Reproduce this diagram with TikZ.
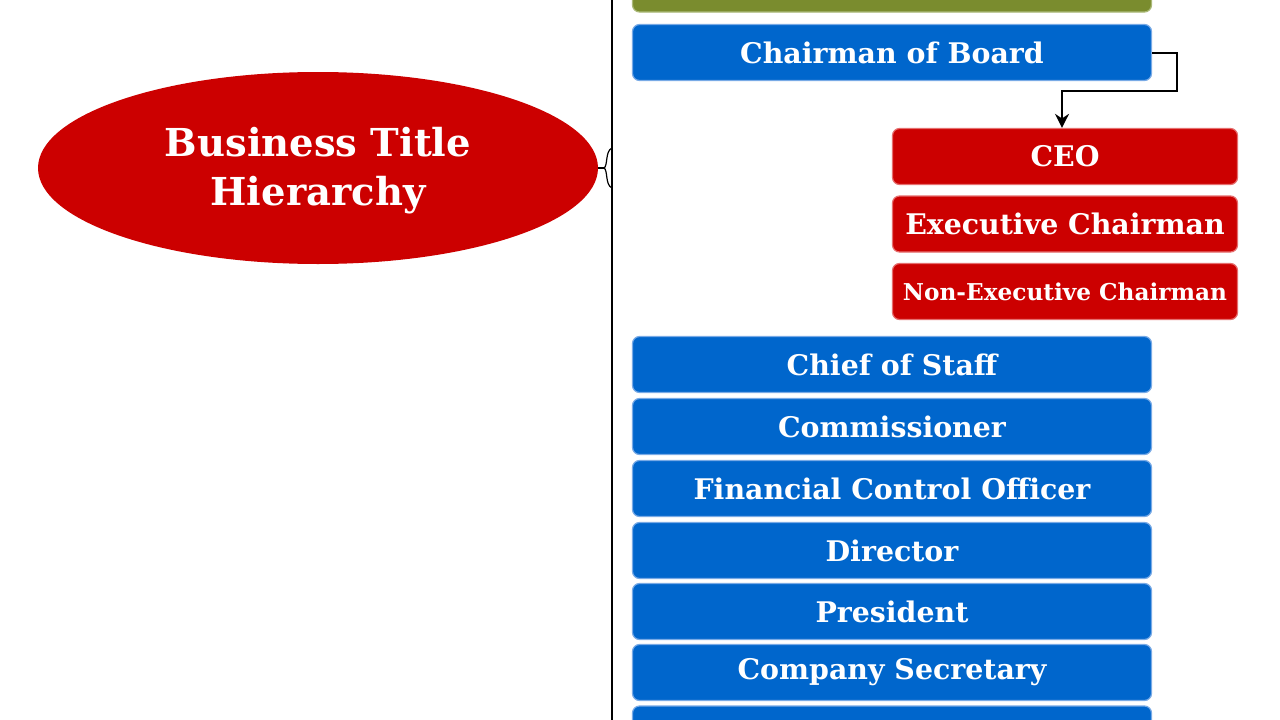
\documentclass[tikz,border=0pt]{standalone}
\usepackage{fontspec}
\setmainfont{DejaVu Serif}
\usetikzlibrary{arrows.meta,shapes.geometric}
\definecolor{bblue}{RGB}{0,102,204}
\definecolor{bblueb}{RGB}{120,170,230}
\definecolor{rred}{RGB}{204,0,0}
\definecolor{rredb}{RGB}{230,110,110}
\definecolor{ggreen}{RGB}{122,140,46}
\definecolor{ggreenb}{RGB}{170,185,120}
\tikzset{
  tbox/.style={rectangle, rounded corners=7pt, line width=1.2pt, text=white,
    font=\bfseries\fontsize{28.4}{32}\selectfont, inner sep=0pt, anchor=center},
  bluebox/.style={tbox, fill=bblue, draw=bblueb, minimum width=519pt, minimum height=56pt},
  redbox/.style={tbox, fill=rred, draw=rredb, minimum width=345pt, minimum height=56pt},
  greenbox/.style={tbox, fill=ggreen, draw=ggreenb, minimum width=519pt, minimum height=56pt},
  conn/.style={draw=black, line width=2pt},
}
\begin{document}
\begin{tikzpicture}[x=1pt,y=-1pt]
\useasboundingbox (0,0) rectangle (1280,720);
\fill[white] (0,0) rectangle (1280,720);
% ellipse
\node[ellipse, fill=rred, minimum width=560pt, minimum height=192pt, inner sep=0pt,
  text=white, font=\bfseries\fontsize{38.5}{49}\selectfont, align=center] (main) at (318,168)
  {};
\node[text=white, font=\bfseries\fontsize{38.5}{49}\selectfont, align=center] (maintxt) at (318,171)
  {Business Title\\Hierarchy};
% vertical line
\coordinate (vtop) at (612,0);
\coordinate (vbot) at (612,720);
\draw[line width=1.6pt] (vtop) -- (vbot);
% brace
\coordinate (btip) at (604,168);
\coordinate (bup) at (612,148);
\coordinate (bdn) at (612,188);
\draw[line width=1.4pt] (main.east) -- (btip);
\draw[line width=1.2pt] (bup) .. controls (605,151) and (608,166) .. (btip)
  .. controls (608,170) and (605,185) .. (bdn);
% boxes
\node[greenbox] (green) at (892,-16) {};
\node[bluebox] (chair) at (892,52.5) {Chairman of Board};
\node[redbox] (ceo) at (1065,156.5) {CEO};
\node[redbox] (exec) at (1065,224) {Executive Chairman};
\node[redbox, font=\bfseries\fontsize{23.2}{27}\selectfont] (nonexec) at (1065,291.5) {Non-Executive Chairman};
\node[bluebox] (cos) at (892,364.5) {Chief of Staff};
\node[bluebox] (comm) at (892,426.5) {Commissioner};
\node[bluebox] (fco) at (892,488.5) {Financial Control Officer};
\node[bluebox] (dir) at (892,550.5) {Director};
\node[bluebox] (pres) at (892,611.5) {President};
\node[bluebox] (sec) at (892,672.5) {Company Secretary};
\node[bluebox] (next) at (892,734) {};
% connector
\coordinate (c1) at (1177,52.5);
\coordinate (c2) at (1177,91);
\coordinate (c3) at (1062,91);
\draw[conn, -{Stealth[length=14pt,width=14pt]}] (chair.east) -- (c1) -- (c2) -- (c3) -- (c3 |- ceo.north);
\end{tikzpicture}
\end{document}
